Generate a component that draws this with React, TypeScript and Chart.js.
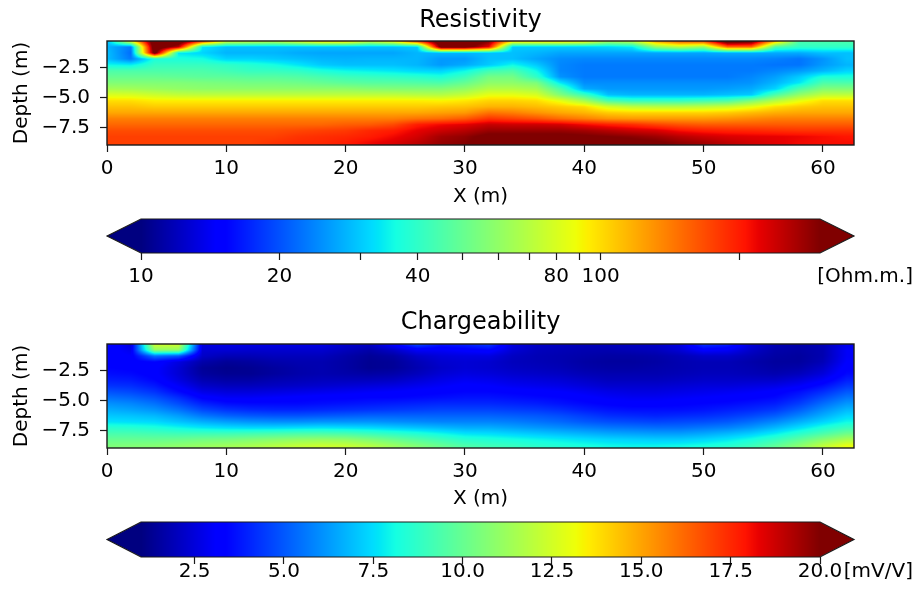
import React, { useEffect, useRef } from "react";
import { Chart, registerables } from "chart.js";

Chart.register(...registerables);

const FONT = "'DejaVu Sans', sans-serif";

// ---------- data ----------
const xPositions = [0, 2, 4, 6, 8, 10, 12, 14, 16, 18, 20, 22, 24, 26, 28, 30, 32, 34, 36, 38, 40, 42, 44, 46, 48, 50, 52, 54, 56, 58, 60, 62];
const depthRows = [-0.25, -0.75, -1.25, -1.75, -2.25, -2.75, -3.25, -3.75, -4.25, -4.75, -5.25, -5.75, -6.25, -6.75, -7.25, -7.75, -8.25, -8.75];

const xRange = [0, 62.6];
const depthRange = [-8.95, -0.25];
const xTickValues = [0, 10, 20, 30, 40, 50, 60];
const depthTickValues = [-7.5, -5, -2.5];

// Resistivity (Ohm.m) per depth row, columns at xPositions
const res_0_25 = [28, 90, 400, 400, 200, 85, 80, 75, 90, 110, 110, 80, 100, 200, 400, 400, 300, 110, 110, 110, 100, 69, 75, 127, 168, 180, 400, 350, 120, 45, 45, 45];
const res_0_75 = [28, 23, 400, 250, 33, 29, 29, 29, 29, 29, 29, 29, 29, 30, 350, 350, 220, 30, 30, 30, 30, 31, 33, 60, 70, 60, 150, 150, 45, 40, 40, 40];
const res_1_25 = [29, 22, 350, 33, 31, 28, 28, 28, 27, 26.5, 26.5, 26.5, 26.5, 28, 28, 28, 29, 29, 28, 26.5, 26.5, 26.5, 26.5, 26.5, 26.5, 26.5, 27, 27, 27, 27, 29, 29];
const res_1_75 = [29, 23, 37, 37, 36, 31, 31, 30, 29, 28, 27.7, 28, 28, 28, 25.5, 25.5, 29, 29, 26.5, 24.4, 24, 24, 24, 24, 24, 24, 24, 24, 23.5, 22.5, 25, 29];
const res_2_25 = [35, 34, 41, 41, 41, 40, 38, 36, 33, 30, 29, 29, 29, 28, 25.5, 27, 30, 35, 30, 24, 23, 23, 23, 23, 23, 23, 23, 23, 22.5, 22.5, 25.5, 28];
const res_2_75 = [45, 45, 45, 45, 45, 43, 41, 41, 40, 37, 35, 34, 33, 31.5, 31, 35, 43, 45, 35, 24, 23, 23, 23, 23, 23, 23, 23, 23, 24, 25.5, 28, 31];
const res_3_25 = [50, 50, 50, 49, 48, 48, 47, 47, 46, 44, 42, 41, 40, 39, 37, 42, 53, 53, 40, 25, 23, 23, 23, 23, 23, 23, 23, 24, 26, 30, 37, 37];
const res_3_75 = [56, 56, 56, 56, 55, 54, 53, 53, 52, 50, 48, 47, 47, 46, 45, 50, 59, 59, 55, 33, 24.5, 24.5, 24.5, 24.5, 24.5, 24.5, 24.5, 25, 28, 33, 45, 45];
const res_4_25 = [65, 64, 62, 60, 59, 59, 59, 59, 59, 59, 59, 57, 56, 56, 56, 60, 69, 69, 65, 45, 27, 25.5, 25.5, 25.5, 25.5, 25.5, 26, 27, 31, 45, 56, 56];
const res_4_75 = [81, 80, 76, 73, 72, 72, 72, 72, 72, 72, 72, 72, 72, 70, 69, 74, 85, 85, 80, 56, 42, 29, 28, 28, 28, 28, 29, 30, 45, 60, 72, 72];
const res_5_25 = [99, 99, 94, 94, 94, 94, 94, 94, 94, 94, 94, 94, 94, 94, 92, 96, 103, 103, 100, 85, 65, 45, 41, 41, 41, 43, 45, 55, 69, 85, 99, 99];
const res_5_75 = [110, 110, 106, 106, 106, 106, 106, 106, 106, 106, 106, 106, 106, 106, 108, 110, 116, 116, 112, 106, 100, 80, 72, 70, 70, 72, 76, 85, 99, 106, 110, 110];
const res_6_25 = [121, 121, 121, 121, 121, 121, 121, 121, 121, 121, 121, 121, 121, 121, 124, 127, 146, 140, 130, 121, 115, 106, 103, 103, 103, 103, 106, 112, 118, 121, 121, 121];
const res_6_75 = [140, 140, 140, 140, 140, 140, 140, 140, 140, 140, 140, 140, 140, 146, 150, 160, 184, 175, 165, 150, 140, 130, 127, 127, 127, 127, 130, 135, 140, 140, 140, 140];
const res_7_25 = [153, 153, 153, 153, 153, 153, 153, 153, 153, 153, 158, 160, 170, 200, 215, 225, 245, 240, 240, 235, 215, 200, 190, 175, 165, 160, 160, 160, 160, 160, 160, 160];
const res_7_75 = [168, 168, 168, 168, 168, 168, 168, 168, 172, 176, 180, 192, 200, 222, 240, 255, 278, 278, 278, 278, 270, 255, 240, 231, 210, 200, 195, 192, 188, 184, 184, 184];
const res_8_25 = [176, 176, 176, 176, 176, 176, 176, 176, 184, 188, 192, 200, 215, 235, 270, 285, 320, 320, 320, 320, 310, 300, 290, 275, 255, 240, 230, 225, 222, 218, 211, 205];
const res_8_75 = [176, 176, 176, 176, 176, 176, 176, 184, 190, 192, 200, 215, 228, 250, 280, 295, 330, 330, 330, 330, 330, 330, 320, 310, 285, 270, 250, 235, 225, 215, 211, 211];

// Chargeability (mV/V) per depth row
const chg_0_25 = [3.6, 2.6, 12.5, 12.5, 2.6, 2.7, 2.7, 2.7, 2.7, 2.7, 2.3, 2.2, 3.3, 4.8, 3.8, 4.0, 4.5, 2.6, 2.2, 2.1, 2.0, 2.0, 2.1, 2.2, 2.6, 4.3, 4.0, 2.5, 1.9, 1.7, 1.9, 2.8];
const chg_0_75 = [3.4, 2.8, 11, 11, 2.4, 2.4, 2.3, 2.3, 2.3, 2.3, 2.0, 1.7, 2.2, 3.0, 3.0, 3.2, 3.4, 2.4, 2.0, 1.9, 1.8, 1.8, 1.9, 2.0, 2.4, 3.2, 3.0, 2.2, 1.7, 1.6, 1.8, 3.0];
const chg_1_25 = [3.3, 3.1, 5.5, 5.0, 2.2, 1.9, 1.9, 2.0, 2.0, 2.0, 1.7, 1.4, 1.6, 2.2, 2.5, 2.6, 2.6, 2.1, 1.9, 1.8, 1.7, 1.6, 1.6, 1.7, 1.9, 2.2, 2.2, 1.9, 1.6, 1.5, 1.8, 3.0];
const chg_1_75 = [3.3, 3.2, 3.4, 2.6, 1.7, 1.4, 1.5, 1.7, 1.8, 1.8, 1.6, 1.3, 1.4, 1.9, 2.3, 2.4, 2.3, 2.0, 1.9, 1.8, 1.6, 1.5, 1.5, 1.6, 1.8, 1.9, 1.9, 1.7, 1.5, 1.5, 1.9, 3.1];
const chg_2_25 = [3.4, 3.3, 3.2, 2.4, 1.4, 1.2, 1.3, 1.5, 1.7, 1.8, 1.6, 1.3, 1.4, 1.8, 2.2, 2.4, 2.3, 2.1, 2.0, 1.9, 1.7, 1.6, 1.6, 1.7, 1.8, 1.9, 1.9, 1.8, 1.6, 1.7, 2.2, 3.3];
const chg_2_75 = [3.6, 3.5, 3.2, 2.4, 1.5, 1.3, 1.3, 1.5, 1.7, 1.8, 1.7, 1.6, 1.7, 2.0, 2.4, 2.6, 2.5, 2.3, 2.2, 2.1, 1.9, 1.8, 1.8, 1.8, 1.9, 2.0, 2.0, 1.9, 1.8, 2.0, 2.5, 3.5];
const chg_3_25 = [3.9, 3.8, 3.4, 2.6, 1.8, 1.6, 1.6, 1.8, 1.9, 2.0, 2.0, 2.0, 2.1, 2.4, 2.7, 2.9, 2.8, 2.6, 2.5, 2.4, 2.2, 2.0, 2.0, 2.0, 2.1, 2.2, 2.2, 2.2, 2.2, 2.5, 3.0, 3.9];
const chg_3_75 = [4.3, 4.2, 3.8, 3.0, 2.2, 2.0, 2.0, 2.1, 2.2, 2.3, 2.4, 2.5, 2.6, 2.8, 3.0, 3.2, 3.1, 2.9, 2.8, 2.7, 2.5, 2.3, 2.3, 2.3, 2.4, 2.5, 2.5, 2.6, 2.7, 3.0, 3.6, 4.4];
const chg_4_25 = [4.9, 4.7, 4.3, 3.5, 2.7, 2.5, 2.5, 2.6, 2.7, 2.8, 2.9, 3.0, 3.1, 3.2, 3.3, 3.4, 3.4, 3.3, 3.2, 3.1, 2.9, 2.7, 2.6, 2.6, 2.7, 2.8, 2.9, 3.0, 3.2, 3.6, 4.2, 5.0];
const chg_4_75 = [5.5, 5.3, 4.9, 4.2, 3.3, 3.0, 3.0, 3.1, 3.2, 3.3, 3.3, 3.4, 3.4, 3.5, 3.6, 3.7, 3.7, 3.6, 3.5, 3.4, 3.2, 3.0, 2.9, 2.9, 3.0, 3.1, 3.2, 3.3, 3.5, 4.0, 4.8, 5.6];
const chg_5_25 = [6.1, 5.9, 5.5, 4.8, 4.0, 3.6, 3.5, 3.5, 3.5, 3.6, 3.7, 3.8, 3.9, 4.0, 4.1, 4.1, 4.1, 4.0, 3.9, 3.7, 3.5, 3.3, 3.2, 3.2, 3.3, 3.4, 3.5, 3.7, 3.9, 4.5, 5.4, 6.2];
const chg_5_75 = [6.6, 6.4, 6.1, 5.5, 4.7, 4.3, 4.1, 4.0, 4.0, 4.1, 4.2, 4.3, 4.4, 4.5, 4.6, 4.6, 4.6, 4.5, 4.4, 4.2, 3.9, 3.7, 3.6, 3.6, 3.6, 3.7, 3.9, 4.1, 4.4, 5.1, 6.0, 6.8];
const chg_6_25 = [7.1, 7.0, 6.8, 6.3, 5.6, 5.2, 5.0, 4.9, 4.9, 5.0, 5.1, 5.2, 5.2, 5.2, 5.2, 5.2, 5.2, 5.1, 5.0, 4.8, 4.5, 4.2, 4.1, 4.0, 4.1, 4.2, 4.4, 4.7, 5.1, 5.8, 6.6, 7.4];
const chg_6_75 = [7.6, 7.5, 7.4, 7.0, 6.6, 6.3, 6.1, 6.0, 6.0, 6.1, 6.1, 6.1, 6.0, 5.9, 5.8, 5.8, 5.8, 5.7, 5.5, 5.3, 5.0, 4.8, 4.7, 4.6, 4.7, 4.8, 5.0, 5.4, 5.9, 6.6, 7.3, 8.0];
const chg_7_25 = [8.6, 8.5, 8.3, 8.0, 7.7, 7.5, 7.4, 7.4, 7.5, 7.6, 7.5, 7.4, 7.2, 7.0, 6.8, 6.6, 6.6, 6.4, 6.2, 6.0, 5.8, 5.6, 5.5, 5.4, 5.4, 5.6, 5.8, 6.2, 6.8, 7.5, 8.3, 9.0];
const chg_7_75 = [9.3, 9.3, 9.2, 9.1, 9.1, 9.1, 9.2, 9.3, 9.4, 9.4, 9.3, 9.0, 8.7, 8.4, 8.0, 7.6, 7.5, 7.3, 7.1, 6.9, 6.7, 6.5, 6.4, 6.3, 6.3, 6.5, 6.8, 7.2, 7.8, 8.6, 9.4, 10.2];
const chg_8_25 = [10.0, 10.0, 10.0, 10.1, 10.3, 10.4, 10.6, 10.8, 11.0, 11.1, 11.0, 10.6, 10.1, 9.6, 9.1, 8.6, 8.4, 8.2, 8.0, 7.8, 7.6, 7.4, 7.3, 7.2, 7.2, 7.4, 7.7, 8.2, 8.9, 9.8, 10.8, 11.6];
const chg_8_75 = [10.5, 10.6, 10.7, 10.9, 11.1, 11.3, 11.5, 11.8, 12.1, 12.3, 12.2, 11.8, 11.2, 10.6, 10.0, 9.4, 9.1, 8.9, 8.6, 8.4, 8.2, 8.0, 7.9, 7.9, 8.0, 8.2, 8.5, 9.0, 9.8, 10.8, 12.0, 13.0];

const resistivityRows = [res_0_25, res_0_75, res_1_25, res_1_75, res_2_25, res_2_75, res_3_25, res_3_75, res_4_25, res_4_75, res_5_25, res_5_75, res_6_25, res_6_75, res_7_25, res_7_75, res_8_25, res_8_75];
const chargeabilityRows = [chg_0_25, chg_0_75, chg_1_25, chg_1_75, chg_2_25, chg_2_75, chg_3_25, chg_3_75, chg_4_25, chg_4_75, chg_5_25, chg_5_75, chg_6_25, chg_6_75, chg_7_25, chg_7_75, chg_8_25, chg_8_75];

// colorbars
const resColorRange = [10, 300];
const resColorbarTicks = [10, 20, 30, 40, 50, 60, 70, 80, 90, 100, 200];
const resColorbarLabels = [10, 20, 40, 80, 100];
const resUnit = "[Ohm.m.]";
const chgColorRange = [1, 20];
const chgColorbarTicks = [2.5, 5, 7.5, 10, 12.5, 15, 17.5, 20];
const chgUnit = "[mV/V]";

// ---------- jet colormap ----------
const JR = [[0, 0], [0.35, 0], [0.66, 1], [0.89, 1], [1, 0.5]];
const JG = [[0, 0], [0.125, 0], [0.375, 1], [0.64, 1], [0.91, 0], [1, 0]];
const JB = [[0, 0.5], [0.11, 1], [0.34, 1], [0.65, 0], [1, 0]];
function segInterp(s: number[][], t: number) {
  if (t <= s[0][0]) return s[0][1];
  for (let i = 1; i < s.length; i++) {
    if (t <= s[i][0]) {
      const [t0, v0] = s[i - 1];
      const [t1, v1] = s[i];
      return v0 + ((v1 - v0) * (t - t0)) / (t1 - t0);
    }
  }
  return s[s.length - 1][1];
}
function jet(t: number): number[] {
  const u = Math.min(1, Math.max(0, t));
  return [segInterp(JR, u) * 255, segInterp(JG, u) * 255, segInterp(JB, u) * 255];
}

// ---------- plugins ----------
function makeHeatmapPlugin(toUnit: (v: number) => number, norm: (u: number) => number) {
  return {
    id: "heatmapCells",
    beforeDatasetsDraw(chart: any) {
      const { ctx, chartArea: a, scales } = chart;
      const xs = scales.x;
      const ys = scales.y;
      const pts = chart.data.datasets[0].data as { x: number; y: number; v: number }[];
      const nc = xPositions.length;
      const nr = depthRows.length;
      const grid = pts.map((p) => toUnit(p.v));
      const L = Math.round(a.left);
      const T = Math.round(a.top);
      const W = Math.round(a.right) - L;
      const H = Math.round(a.bottom) - T;
      const img = ctx.createImageData(W, H);
      const dx = xPositions[1] - xPositions[0];
      const dd = depthRows[0] - depthRows[1];
      for (let j = 0; j < H; j++) {
        const d = ys.getValueForPixel(T + j + 0.5);
        let fy = (depthRows[0] - d) / dd;
        fy = Math.min(nr - 1, Math.max(0, fy));
        const r0 = Math.floor(fy);
        const r1 = Math.min(r0 + 1, nr - 1);
        const wy = fy - r0;
        for (let i = 0; i < W; i++) {
          const x = xs.getValueForPixel(L + i + 0.5);
          let fx = (x - xPositions[0]) / dx;
          fx = Math.min(nc - 1, Math.max(0, fx));
          const c0 = Math.floor(fx);
          const c1 = Math.min(c0 + 1, nc - 1);
          const wx = fx - c0;
          const v =
            grid[r0 * nc + c0] * (1 - wx) * (1 - wy) +
            grid[r0 * nc + c1] * wx * (1 - wy) +
            grid[r1 * nc + c0] * (1 - wx) * wy +
            grid[r1 * nc + c1] * wx * wy;
          const [R, G, B] = jet(norm(v));
          const k = (j * W + i) * 4;
          img.data[k] = R;
          img.data[k + 1] = G;
          img.data[k + 2] = B;
          img.data[k + 3] = 255;
        }
      }
      ctx.putImageData(img, L, T);
    },
    afterDatasetsDraw(chart: any) {
      const { ctx, chartArea: a } = chart;
      ctx.save();
      ctx.strokeStyle = "#1a1a1a";
      ctx.lineWidth = 1.4;
      ctx.strokeRect(a.left, a.top, a.right - a.left, a.bottom - a.top);
      ctx.restore();
    },
  };
}

function makeColorbarPlugin(norm: (v: number) => number, unit: string, labelOffset: number) {
  return {
    id: "colorbarBody",
    beforeDatasetsDraw(chart: any) {
      const { ctx, chartArea: a } = chart;
      const sx = chart.scales.x;
      ctx.save();
      for (let px = Math.floor(a.left); px < Math.ceil(a.right); px++) {
        const v = sx.getValueForPixel(px + 0.5);
        const [r, g, b] = jet(norm(v));
        ctx.fillStyle = `rgb(${Math.round(r)},${Math.round(g)},${Math.round(b)})`;
        ctx.fillRect(px, a.top, 1, a.bottom - a.top);
      }
      const ext = 0.05 * (a.right - a.left);
      const mid = (a.top + a.bottom) / 2;
      const lo = jet(0);
      const hi = jet(1);
      ctx.fillStyle = `rgb(${lo.map(Math.round).join(",")})`;
      ctx.beginPath();
      ctx.moveTo(a.left + 0.5, a.top);
      ctx.lineTo(a.left - ext, mid);
      ctx.lineTo(a.left + 0.5, a.bottom);
      ctx.closePath();
      ctx.fill();
      ctx.fillStyle = `rgb(${hi.map(Math.round).join(",")})`;
      ctx.beginPath();
      ctx.moveTo(a.right - 0.5, a.top);
      ctx.lineTo(a.right + ext, mid);
      ctx.lineTo(a.right - 0.5, a.bottom);
      ctx.closePath();
      ctx.fill();
      ctx.strokeStyle = "#1a1a1a";
      ctx.lineWidth = 1.2;
      ctx.beginPath();
      ctx.moveTo(a.left - ext, mid);
      ctx.lineTo(a.left, a.top);
      ctx.lineTo(a.right, a.top);
      ctx.lineTo(a.right + ext, mid);
      ctx.lineTo(a.right, a.bottom);
      ctx.lineTo(a.left, a.bottom);
      ctx.closePath();
      ctx.stroke();
      ctx.fillStyle = "#000";
      ctx.font = `20px ${FONT}`;
      ctx.textAlign = "right";
      ctx.textBaseline = "middle";
      ctx.fillText(unit, a.right + 93, a.bottom + labelOffset);
      ctx.restore();
    },
  };
}

// ---------- configs ----------
const tickFont = { family: FONT, size: 20, lineHeight: 1.2 };

function heatmapConfig(
  title: string,
  titlePad: { top: number; bottom: number },
  rows: number[][],
  toUnit: (v: number) => number,
  norm: (u: number) => number,
  xHeight: number,
  xTickPad: number,
  xTitlePadBottom: number
) {
  const data: { x: number; y: number; v: number }[] = [];
  depthRows.forEach((d, r) => xPositions.forEach((x, c) => data.push({ x, y: d, v: rows[r][c] })));
  return {
    type: "scatter" as const,
    data: { datasets: [{ data, pointRadius: 0, pointHoverRadius: 0, showLine: false }] },
    options: {
      animation: false as const,
      responsive: false,
      maintainAspectRatio: false,
      devicePixelRatio: 1,
      events: [] as any[],
      layout: { padding: { left: 0, right: 68, top: 0, bottom: 0 } },
      plugins: {
        legend: { display: false },
        tooltip: { enabled: false },
        title: {
          display: true,
          fullSize: false,
          text: title,
          color: "#000",
          font: { family: FONT, size: 24, weight: "normal" as const, lineHeight: 1.2 },
          padding: titlePad,
        },
      },
      scales: {
        x: {
          type: "linear" as const,
          min: xRange[0],
          max: xRange[1],
          afterBuildTicks: (s: any) => {
            s.ticks = xTickValues.map((v) => ({ value: v }));
          },
          afterFit: (s: any) => {
            s.height = xHeight;
          },
          ticks: { font: tickFont, color: "#000", padding: xTickPad, maxRotation: 0, autoSkip: false, callback: (v: any) => String(v) },
          grid: { drawOnChartArea: false, drawTicks: true, tickLength: 7, tickColor: "#1a1a1a", tickWidth: 1.2 },
          border: { display: false },
          title: { display: true, text: "X (m)", color: "#000", font: tickFont, padding: { top: 0, bottom: xTitlePadBottom } },
        },
        y: {
          type: "linear" as const,
          min: depthRange[0],
          max: depthRange[1],
          afterBuildTicks: (s: any) => {
            s.ticks = depthTickValues.map((v) => ({ value: v }));
          },
          afterFit: (s: any) => {
            s.width = 107;
          },
          ticks: {
            font: tickFont,
            color: "#000",
            padding: 10,
            autoSkip: false,
            callback: (v: any) => (v < 0 ? "\u2212" : "") + Math.abs(Number(v)).toFixed(1),
          },
          grid: { drawOnChartArea: false, drawTicks: true, tickLength: 7, tickColor: "#1a1a1a", tickWidth: 1.2 },
          border: { display: false },
          title: { display: true, text: "Depth (m)", color: "#000", font: tickFont, padding: { top: 10, bottom: 0 } },
        },
      },
    },
    plugins: [makeHeatmapPlugin(toUnit, norm)],
  };
}

function colorbarConfig(
  scaleType: "linear" | "logarithmic",
  range: number[],
  tickValues: number[],
  label: (v: number) => string,
  norm: (v: number) => number,
  unit: string,
  top: number,
  xHeight: number,
  tickPad: number
) {
  return {
    type: "scatter" as const,
    data: { datasets: [{ data: [] as any[], pointRadius: 0 }] },
    options: {
      animation: false as const,
      responsive: false,
      maintainAspectRatio: false,
      devicePixelRatio: 1,
      events: [] as any[],
      layout: { padding: { left: 141, right: 102, top, bottom: 0 } },
      plugins: { legend: { display: false }, tooltip: { enabled: false }, title: { display: false } },
      scales: {
        x: {
          type: scaleType,
          min: range[0],
          max: range[1],
          afterBuildTicks: (s: any) => {
            s.ticks = tickValues.map((v) => ({ value: v }));
          },
          afterFit: (s: any) => {
            s.height = xHeight;
          },
          ticks: { font: tickFont, color: "#000", padding: tickPad, maxRotation: 0, autoSkip: false, callback: (v: any) => label(Number(v)) },
          grid: { drawOnChartArea: false, drawTicks: true, tickLength: 7, tickColor: "#1a1a1a", tickWidth: 1.2 },
          border: { display: false },
        },
        y: { display: false, min: 0, max: 1 },
      },
    },
    plugins: [makeColorbarPlugin(norm, unit, 7 + tickPad + 12)],
  };
}

const resToUnit = (v: number) => Math.log10(v);
const resNormUnit = (u: number) => (u - Math.log10(resColorRange[0])) / (Math.log10(resColorRange[1]) - Math.log10(resColorRange[0]));
const resNormValue = (v: number) => resNormUnit(Math.log10(v));
const chgToUnit = (v: number) => v;
const chgNorm = (v: number) => (v - chgColorRange[0]) / (chgColorRange[1] - chgColorRange[0]);

export default function App() {
  const c1 = useRef<HTMLCanvasElement>(null);
  const c2 = useRef<HTMLCanvasElement>(null);
  const c3 = useRef<HTMLCanvasElement>(null);
  const c4 = useRef<HTMLCanvasElement>(null);

  useEffect(() => {
    const charts = [
      new Chart(c1.current as HTMLCanvasElement, heatmapConfig("Resistivity", { top: 6, bottom: 6.2 }, resistivityRows, resToUnit, resNormUnit, 65, 5, 1) as any),
      new Chart(
        c3.current as HTMLCanvasElement,
        colorbarConfig("logarithmic", resColorRange, resColorbarTicks, (v) => (resColorbarLabels.includes(v) ? String(v) : ""), resNormValue, resUnit, 19, 47, 5) as any
      ),
      new Chart(c2.current as HTMLCanvasElement, heatmapConfig("Chargeability", { top: 8.6, bottom: 6.6 }, chargeabilityRows, chgToUnit, chgNorm, 67, 5, 4) as any),
      new Chart(
        c4.current as HTMLCanvasElement,
        colorbarConfig("linear", chgColorRange, chgColorbarTicks, (v) => v.toFixed(1), chgNorm, chgUnit, 17, 36, -4) as any
      ),
    ];
    return () => charts.forEach((c) => c.destroy());
  }, []);

  const cs = (top: number, h: number): React.CSSProperties => ({ position: "absolute", left: 0, top, width: 922, height: h });
  return (
    <div style={{ position: "fixed", left: 0, top: 0, width: 922, height: 593, background: "#fff", overflow: "hidden" }}>
      <canvas ref={c1} width={922} height={210} style={cs(0, 210)} />
      <canvas ref={c3} width={922} height={100} style={cs(200, 100)} />
      <canvas ref={c2} width={922} height={215} style={cs(300, 215)} />
      <canvas ref={c4} width={922} height={88} style={cs(505, 88)} />
    </div>
  );
}
